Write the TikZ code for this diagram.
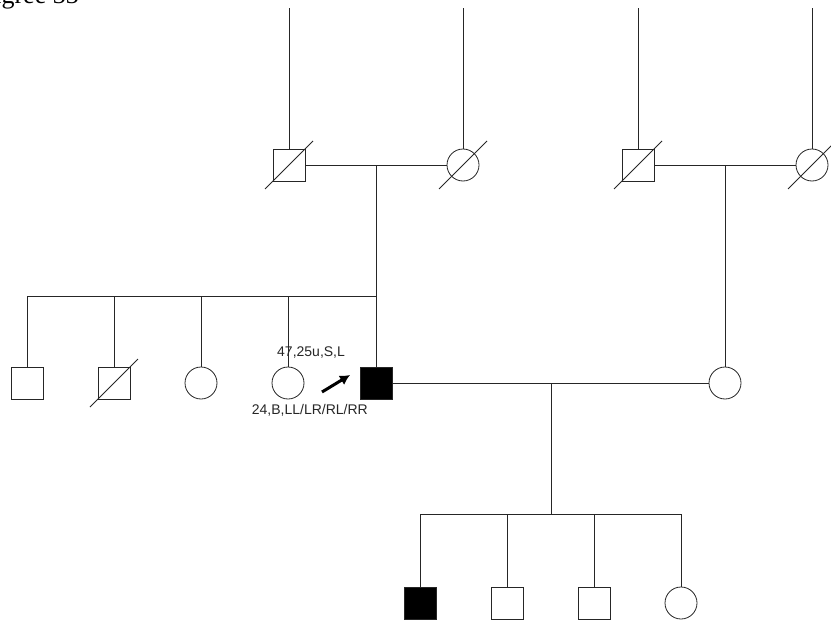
\documentclass[tikz,border=0pt]{standalone}
\usepackage{fontspec}
\setmainfont{Liberation Sans}
\newfontfamily\serifcap{Liberation Serif}
\usetikzlibrary{arrows.meta}
\tikzset{
  rel/.style={line width=0.8pt, draw=black!85},
  sq/.style={rectangle, draw=black!85, line width=0.8pt, minimum size=32pt, inner sep=0pt, fill=white},
  ci/.style={circle, draw=black!85, line width=0.8pt, minimum size=32pt, inner sep=0pt, fill=white},
  aff/.style={fill=black},
  dead/.style={line width=0.8pt, draw=black!85},
  lbl/.style={inner sep=0pt, font=\fontsize{14}{16}\selectfont, text=black!85},
  proarrow/.style={line width=3pt, -{Latex[length=10pt,width=11pt]}}
}
\begin{document}
\begin{tikzpicture}[x=1pt,y=-1pt]
\useasboundingbox (0,0) rectangle (831,621);
% title, cut by the page edge as in the reference
\node[anchor=base east, inner sep=0pt, font=\serifcap\fontsize{26}{28}\selectfont] (title) at (79,3) {Pedigree 33};

% coordinates of junctions
\coordinate (t1) at (289,8);
\coordinate (t2) at (463,8);
\coordinate (t3) at (638,8);
\coordinate (t4) at (812,8);
\coordinate (m1) at (376,165);
\coordinate (m2) at (725,165);
\coordinate (s1) at (376,296);
\coordinate (sL) at (27,296);
\coordinate (s1b) at (114,296);
\coordinate (s1c) at (201,296);
\coordinate (s1d) at (288,296);
\coordinate (m3) at (551,383);
\coordinate (s2) at (551,514);
\coordinate (s2a) at (420,514);
\coordinate (s2b) at (507,514);
\coordinate (s2c) at (594,514);
\coordinate (s2d) at (681,514);

% generation I
\node[sq] (gf1) at (289,165) {};
\node[ci] (gm1) at (463,165) {};
\node[sq] (gf2) at (638,165) {};
\node[ci] (gm2) at (812,165) {};
\draw[rel] (t1) -- (gf1.north);
\draw[rel] (t2) -- (gm1.north);
\draw[rel] (t3) -- (gf2.north);
\draw[rel] (t4) -- (gm2.north);
\draw[rel] (gf1.east) -- (gm1.west);
\draw[rel] (gf2.east) -- (gm2.west);
\draw[dead] ([shift={(-24,24)}]gf1.center) -- ([shift={(24,-24)}]gf1.center);
\draw[dead] ([shift={(-24,24)}]gm1.center) -- ([shift={(24,-24)}]gm1.center);
\draw[dead] ([shift={(-24,24)}]gf2.center) -- ([shift={(24,-24)}]gf2.center);
\draw[dead] ([shift={(-24,24)}]gm2.center) -- ([shift={(24,-24)}]gm2.center);

% generation II
\node[sq] (b1) at (27,383) {};
\node[sq] (b2) at (114,383) {};
\node[ci] (b3) at (201,383) {};
\node[ci] (b4) at (288,383) {};
\node[sq, aff] (p) at (376,383) {};
\node[ci] (w) at (725,383) {};
\draw[dead] ([shift={(-24,24)}]b2.center) -- ([shift={(24,-24)}]b2.center);
\draw[rel] (m1) -- (s1);
\draw[rel] (sL) -- (s1);
\draw[rel] (sL) -- (b1.north);
\draw[rel] (s1b) -- (b2.north);
\draw[rel] (s1c) -- (b3.north);
\draw[rel] (s1) -- (p.north);
\draw[rel] (m2) -- (w.north);
\draw[rel] (p.east) -- (w.west);

% labels of the proband
\node[lbl, anchor=base west] (la) at (277,356) {47,25u,S,L};
\draw[rel] (s1d) -- (b4.north);
\node[lbl, anchor=base east] (lb) at (368,414) {24,B,LL/LR/RL/RR};
\coordinate (arA) at (322,392);
\coordinate (arB) at (350,375);
\draw[proarrow] (arA) -- (arB);

% generation III
\node[sq, aff] (k1) at (420,603) {};
\node[sq] (k2) at (507,603) {};
\node[sq] (k3) at (594,603) {};
\node[ci] (k4) at (681,603) {};
\draw[rel] (m3) -- (s2);
\draw[rel] (s2a) -- (s2d);
\draw[rel] (s2a) -- (k1.north);
\draw[rel] (s2b) -- (k2.north);
\draw[rel] (s2c) -- (k3.north);
\draw[rel] (s2d) -- (k4.north);
\end{tikzpicture}
\end{document}
